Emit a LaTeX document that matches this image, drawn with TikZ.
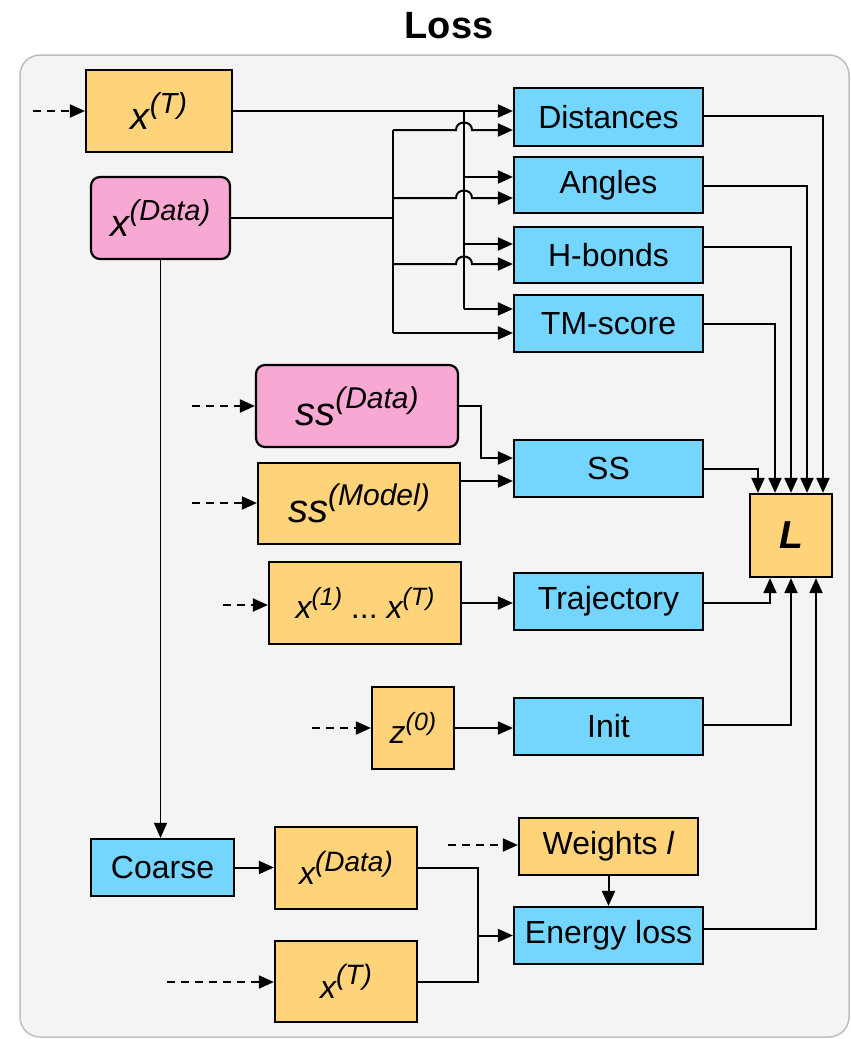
\documentclass[tikz,border=0pt]{standalone}
\usepackage{fontspec}
\setmainfont{Liberation Sans}
\usetikzlibrary{arrows.meta}
\definecolor{orng}{RGB}{254,211,122}
\definecolor{blu}{RGB}{116,213,255}
\definecolor{pnk}{RGB}{248,169,211}
\definecolor{bgc}{RGB}{244,244,244}
\definecolor{bdc}{RGB}{190,190,190}
\newcommand\xsp[3]{#1\raisebox{0.42em}{\fontsize{#3}{#3}\selectfont #2}}
\begin{document}
\begin{tikzpicture}[x=1pt,y=-1pt,
 box/.style={draw=black, line width=2.2pt, inner sep=0pt, align=center},
 bluebox/.style={box, fill=blu, font=\fontsize{32}{36}\selectfont},
 orbox/.style={box, fill=orng},
 pkbox/.style={box, fill=pnk, rounded corners=9pt},
 bigm/.style={font=\fontsize{38}{40}\selectfont\itshape},
 smallm/.style={font=\fontsize{32}{34}\selectfont\itshape},
 tip/.style={-{Triangle[length=15pt,width=13pt]}},
 conn/.style={line width=2pt, tip},
 plain/.style={line width=2pt},
 dsh/.style={conn, dash pattern=on 8pt off 6pt},
]
\useasboundingbox (0,0) rectangle (851,1039);
\draw[bdc, fill=bgc, line width=1.5pt, rounded corners=20pt] (20,55) rectangle (849,1037);
\node[anchor=base, font=\fontsize{38}{40}\selectfont\bfseries] (title) at (449,38) {Loss};

% nodes
\node[orbox, bigm, minimum width=146pt, minimum height=82pt] (xT) at (159,111) {\xsp{x}{(T)}{29}};
\node[pkbox, bigm, minimum width=139pt, minimum height=82pt] (xData) at (160.5,218) {\xsp{x}{(Data)}{29}};
\node[bluebox, minimum width=189pt, minimum height=58pt] (Dist) at (608.5,117) {Distances};
\node[bluebox, minimum width=189pt, minimum height=56pt] (Ang) at (608.5,185) {Angles};
\node[bluebox, minimum width=189pt, minimum height=56pt] (Hb) at (608.5,255) {H-bonds};
\node[bluebox, minimum width=189pt, minimum height=57pt] (TM) at (608.5,323.5) {TM-score};
\node[pkbox, font=\fontsize{40}{42}\selectfont\itshape, minimum width=202pt, minimum height=82pt] (ssD) at (357,406) {\xsp{ss}{(Data)}{30}};
\node[orbox, font=\fontsize{40}{42}\selectfont\itshape, minimum width=202pt, minimum height=81pt] (ssM) at (359,503.5) {\xsp{ss}{(Model)}{30}};
\node[bluebox, minimum width=189pt, minimum height=57pt] (SS) at (608.5,468.5) {SS};
\node[orbox, font=\fontsize{39}{40}\selectfont\bfseries\itshape, minimum width=82pt, minimum height=83pt] (L) at (791,535.5) {L};
\node[orbox, smallm, minimum width=192pt, minimum height=82pt] (xs) at (365,603) {\xsp{x}{(1)}{25} \upshape...\ \itshape\xsp{x}{(T)}{25}};
\node[bluebox, minimum width=189pt, minimum height=57pt] (Traj) at (608.5,601.5) {Trajectory};
\node[orbox, smallm, minimum width=82pt, minimum height=82pt] (z0) at (413,728) {\xsp{z}{(0)}{25}};
\node[bluebox, minimum width=189pt, minimum height=57pt] (Init) at (608.5,726.5) {Init};
\node[bluebox, minimum width=143pt, minimum height=57pt] (Coarse) at (162.5,867.5) {Coarse};
\node[orbox, smallm, minimum width=142pt, minimum height=82pt] (xD2) at (346,868) {\xsp{x}{(Data)}{28}};
\node[orbox, smallm, minimum width=142pt, minimum height=81pt] (xT2) at (346,981.5) {\xsp{x}{(T)}{28}};
\node[orbox, font=\fontsize{32}{36}\selectfont, minimum width=179pt, minimum height=57pt] (W) at (608.5,846.5) {Weights \textit{l}};
\node[bluebox, minimum width=189pt, minimum height=57pt] (E) at (608.5,935.5) {Energy loss};

% free ends of dashed inputs
\coordinate (dT) at (33,111);
\coordinate (dssD) at (192,406);
\coordinate (dssM) at (192,503);
\coordinate (dxs) at (223,605);
\coordinate (dz) at (312,728);
\coordinate (dW) at (448,845);
\coordinate (dxT2) at (167,982);
\draw[dsh] (dT) -- (xT.west |- dT);
\draw[dsh] (dssD) -- (ssD.west |- dssD);
\draw[dsh] (dssM) -- (ssM.west |- dssM);
\draw[dsh] (dxs) -- (xs.west |- dxs);
\draw[dsh] (dz) -- (z0.west |- dz);
\draw[dsh] (dW) -- (W.west |- dW);
\draw[dsh] (dxT2) -- (xT2.west |- dxT2);

% x(T) fan-out
\coordinate (vT) at (464,111);
\coordinate (vTb) at (464,309);
\draw[conn] (xT.east) -- (Dist.west |- xT.east);
\draw[plain] (vT) -- (vTb);
\draw[conn] (vT |- 0,177) -- (Ang.west |- 0,177);
\draw[conn] (vT |- 0,244) -- (Hb.west |- 0,244);
\draw[conn] (vTb) -- (TM.west |- vTb);

% x(Data) fan-out with hops
\coordinate (vD) at (393,218);
\coordinate (vDa) at (393,130);
\coordinate (vDb) at (393,333);
\draw[plain] (xData.east) -- (vD);
\draw[plain] (vDa) -- (vDb);
\draw[conn] (vDa) -- (456,130) .. controls (456,120) and (472,120) .. (472,130) -- (Dist.west |- 0,130);
\draw[conn] (vD |- 0,198) -- (456,198) .. controls (456,188) and (472,188) .. (472,198) -- (Ang.west |- 0,198);
\draw[conn] (vD |- 0,264) -- (456,264) .. controls (456,254) and (472,254) .. (472,264) -- (Hb.west |- 0,264);
\draw[conn] (vDb) -- (TM.west |- vDb);

% outputs to L
\draw[conn] ([yshift=1pt]Dist.east) -| ([xshift=32pt]L.north);
\draw[conn] ([yshift=-1pt]Ang.east) -| ([xshift=16pt]L.north);
\draw[conn] ([yshift=8pt]Hb.east) -| (L.north);
\draw[conn] (TM.east) -| ([xshift=-16pt]L.north);
\draw[conn] (SS.east) -| ([xshift=-33pt]L.north);
\draw[conn] ([yshift=-1.5pt]Traj.east) -| ([xshift=-21pt]L.south);
\draw[conn] ([yshift=1.5pt]Init.east) -| (L.south);
\draw[conn] ([yshift=6.5pt]E.east) -| ([xshift=25pt]L.south);

% ss inputs
\coordinate (sj) at (481,406);
\draw[conn] (ssD.east) -- (sj) |- ([yshift=10.5pt]SS.west);
\draw[conn] ([yshift=22.5pt]ssM.east) -- ([yshift=22.5pt]ssM.east -| SS.west);

% middle rows
\draw[conn] (xs.east) -- (Traj.west |- xs.east);
\draw[conn] (z0.east) -- (Init.west |- z0.east);

% coarse branch
\draw[line width=1.4pt, tip] (xData.south) -- (xData.south |- Coarse.north);
\draw[conn] (Coarse.east) -- (xD2.west |- Coarse.east);
\coordinate (ej) at (478,935.5);
\draw[plain] (xD2.east) -| (ej);
\draw[plain] (xT2.east) -| (ej);
\draw[conn] (ej) -- (E.west);
\draw[conn] (W.south) -- (E.north);
\end{tikzpicture}
\end{document}
